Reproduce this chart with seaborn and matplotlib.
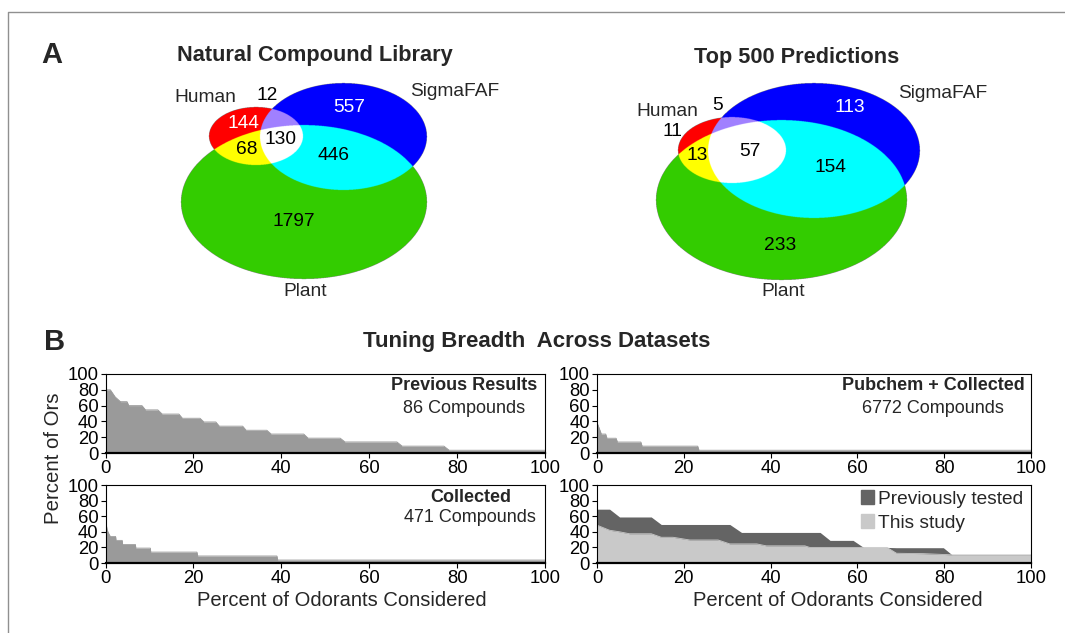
import numpy as np
import matplotlib
matplotlib.use("Agg")
import matplotlib.pyplot as plt
import seaborn as sns
from matplotlib.patches import Patch

# ------------------------------------------------------------------ data
venn_titles = ["Natural Compound Library", "Top 500 Predictions"]
set_names = ["Human", "SigmaFAF", "Plant"]
# region order: H only, S only, P only, H&S, H&P, S&P, H&S&P
library_counts = [144, 557, 1797, 12, 68, 446, 130]
top500_counts = [11, 113, 233, 5, 13, 154, 57]

panel_b_title = "Tuning Breadth  Across Datasets"
b_ticks = [0, 20, 40, 60, 80, 100]

prev_name, prev_n = "Previous Results", "86 Compounds"
prev_x = [0, 1.1, 2.2, 3.4, 4.9, 5.3, 8.3, 9.1, 11.9, 12.9, 16.7, 17.5, 21.5, 22.4,
          25.1, 25.9, 31.2, 32.0, 36.7, 37.7, 45.1, 46.1, 53.4, 54.5, 66.3, 67.5,
          77.0, 78.2, 100]
prev_y = [80, 80, 71, 65, 65, 60, 60, 54.6, 54.6, 49.3, 49.3, 44, 44, 39.3, 39.3,
          34, 34, 28.8, 28.8, 24, 24, 18.8, 18.8, 14, 14, 8.7, 8.7, 3.5, 3.5]

pub_name, pub_n = "Pubchem + Collected", "6772 Compounds"
pub_x = [0, 0.2, 0.6, 1.0, 2.0, 2.3, 4.4, 4.7, 10.1, 10.4, 23.2, 23.5, 100]
pub_y = [37, 36, 30, 24, 24, 18.7, 18.7, 13.9, 13.9, 8.7, 8.7, 3.5, 3.5]

col_name, col_n = "Collected", "471 Compounds"
col_x = [0, 0.4, 0.8, 1.1, 2.3, 2.4, 3.8, 3.9, 6.8, 6.9, 10.2, 10.3, 20.8, 21.0,
         39.0, 39.2, 100]
col_y = [55, 42, 37, 34, 34, 29, 29, 23.8, 23.8, 19.1, 19.1, 14, 14, 9, 9, 3.8, 3.8]

prevtested_x = [0, 2.9, 5.2, 12.5, 14.8, 30.6, 33.3, 51.4, 53.7, 59.0, 61.4, 66.8,
                69.0, 79.8, 81.8, 100]
prevtested_y = [69, 69, 59, 59, 49.4, 49.4, 39.2, 39.2, 29, 29, 20, 20, 19.6, 19.6,
                10.5, 10.5]
thisstudy_x = [0, 2.9, 5.2, 7.5, 12.5, 14.8, 17.5, 21.4, 27.9, 30.6, 36.8, 39.0,
               47.9, 49.0, 66.8, 69.0, 75.2, 81.8, 100]
thisstudy_y = [48.5, 42, 40, 37.5, 37.5, 33, 33, 29.5, 29.5, 24.5, 24.5, 22, 22, 20,
               20, 12.5, 12, 10.5, 10.5]
legend_labels = ["Previously tested", "This study"]

# ------------------------------------------------------------------ style
sns.set_style("white")
plt.rcParams["font.family"] = ["Liberation Sans", "DejaVu Sans"]

GRAY = "#9a9a9a"
DARK = "#646464"
LIGHT = "#c9c9c9"
region_colors = ["#ff0000", "#0000ff", "#33cc00", "#a080ff", "#ffff00", "#00ffff", "#ffffff"]

fig = plt.figure(figsize=(10.65, 6.33), dpi=100)
W, H = 1065, 633


def fig_rect(x0, x1, y0, y1):
    return [x0 / W, 1 - y1 / H, (x1 - x0) / W, (y1 - y0) / H]


# overlay axes in pixel coordinates
ov = fig.add_axes([0, 0, 1, 1], zorder=10)
ov.set_xlim(0, W)
ov.set_ylim(H, 0)
ov.axis("off")
ov.patch.set_alpha(0)

# frame
ov.plot([8, 8, 1100], [700, 12, 12], color="#909090", lw=1.0)

# ------------------------------------------------------------------ panel A
venn_layouts = [
    {  # ellipses (cx, cy, a, b) for Human, Sigma, Plant
        "ell": [(256, 136, 47, 29), (343.5, 136.5, 83.5, 53.5), (304, 202, 123, 77)],
        "extent": (170, 440, 75, 290),
        "title": (315, 55),
        "names": [(205, 98), (455, 92), (305, 292)],
        "counts": [(243, 123), (349, 107), (294, 222), (267, 95), (247, 149), (334, 156), (280, 139)],
        "cc": ["white", "white", "black", "black", "black", "black", "black"],
    },
    {
        "ell": [(732, 150, 54, 33), (814, 150.5, 106, 67.5), (781.5, 200, 125.5, 80)],
        "extent": (645, 930, 75, 290),
        "title": (797, 57),
        "names": [(667, 111), (943, 94), (783, 292)],
        "counts": [(672, 131), (850, 107), (780, 246), (718, 105), (697, 156), (830, 167), (750, 152)],
        "cc": ["black", "white", "black", "black", "black", "black", "black"],
    },
]


def draw_venn(ax, lay, counts, title):
    x0, x1, y0, y1 = lay["extent"]
    s = 4
    xs = np.linspace(x0, x1, int((x1 - x0) * s))
    ys = np.linspace(y0, y1, int((y1 - y0) * s))
    X, Y = np.meshgrid(xs, ys)
    m = [((X - cx) / a) ** 2 + ((Y - cy) / b) ** 2 <= 1 for cx, cy, a, b in lay["ell"]]
    h, sg, p = m
    regions = [h & ~sg & ~p, sg & ~h & ~p, p & ~h & ~sg, h & sg & ~p, h & p & ~sg,
               sg & p & ~h, h & sg & p]
    img = np.zeros(X.shape + (4,))
    for reg, c in zip(regions, region_colors):
        img[reg] = matplotlib.colors.to_rgba(c)
    ax.imshow(img, extent=(x0, x1, y1, y0), origin="upper", interpolation="antialiased",
              aspect="auto", zorder=1)
    ax.text(*lay["title"], title, ha="center", va="center", fontsize=15.7, fontweight="bold")
    for (tx, ty), name in zip(lay["names"], set_names):
        ax.text(tx, ty, name, ha="center", va="center", fontsize=13.8)
    for (tx, ty), c, col in zip(lay["counts"], counts, lay["cc"]):
        ax.text(tx, ty, str(c), ha="center", va="center", fontsize=13.8, color=col, zorder=3)


draw_venn(ov, venn_layouts[0], library_counts, venn_titles[0])
draw_venn(ov, venn_layouts[1], top500_counts, venn_titles[1])
ov.set_xlim(0, W)
ov.set_ylim(H, 0)

ov.text(52, 55, "A", ha="center", va="center", fontsize=21, fontweight="bold")
ov.text(55, 342, "B", ha="center", va="center", fontsize=21, fontweight="bold")
ov.text(537, 342, panel_b_title, ha="center", va="center", fontsize=16, fontweight="bold")

# ------------------------------------------------------------------ panel B
ax_tl = fig.add_axes(fig_rect(105.5, 545, 374, 453))
ax_tr = fig.add_axes(fig_rect(597, 1031, 374, 453))
ax_bl = fig.add_axes(fig_rect(105.5, 545, 485, 563))
ax_br = fig.add_axes(fig_rect(597, 1031, 485, 563))


def style_axis(ax):
    ax.set_xlim(0, 100)
    ax.set_ylim(0, 100)
    ax.set_xticks(b_ticks)
    ax.set_yticks(b_ticks)
    ax.tick_params(axis="both", direction="out", length=3.5, width=0.8, labelsize=13.3,
                   pad=1.5, colors="black", left=True, bottom=True)
    for sp in ["top", "right", "left"]:
        ax.spines[sp].set_visible(True)
        ax.spines[sp].set_linewidth(0.8)
        ax.spines[sp].set_color("black")
    ax.spines["bottom"].set_linewidth(1.6)
    ax.spines["bottom"].set_color("black")
    ax.set_xlabel("")
    ax.set_ylabel("")


def single(ax, x, y, name, n, cx, y1=85, y2=56):
    ax.fill_between(x, 0, y, color=GRAY, lw=0)
    sns.lineplot(x=x, y=y, ax=ax, color=GRAY, lw=0.6, sort=False, estimator=None)
    style_axis(ax)
    ax.text(cx, y1, name, ha="center", va="center", fontsize=13, fontweight="bold")
    ax.text(cx, y2, n, ha="center", va="center", fontsize=13)


single(ax_tl, prev_x, prev_y, prev_name, prev_n, 81.5)
single(ax_tr, pub_x, pub_y, pub_name, pub_n, 77.5)
single(ax_bl, col_x, col_y, col_name, col_n, 83, 84, 58)

ax_br.fill_between(prevtested_x, 0, prevtested_y, color=DARK, lw=0)
ax_br.fill_between(thisstudy_x, 0, thisstudy_y, color=LIGHT, lw=0)
sns.lineplot(x=thisstudy_x, y=thisstudy_y, ax=ax_br, color=LIGHT, lw=0.6, sort=False,
             estimator=None)
style_axis(ax_br)
handles = [Patch(color=DARK), Patch(color=LIGHT)]
ax_br.legend(handles, legend_labels, loc="upper right", frameon=False, fontsize=13.8,
             handlelength=0.7, handleheight=0.7, handletextpad=0.2, labelspacing=0.35,
             borderaxespad=0.0, bbox_to_anchor=(1.0, 1.03))

ov.text(53.5, 458, "Percent of Ors", rotation=90, ha="center", va="center", fontsize=14.7)
ov.text(342, 601, "Percent of Odorants Considered", ha="center", va="center", fontsize=14.5)
ov.text(838, 601, "Percent of Odorants Considered", ha="center", va="center", fontsize=14.5)

fig.savefig("out.png", dpi=100)
